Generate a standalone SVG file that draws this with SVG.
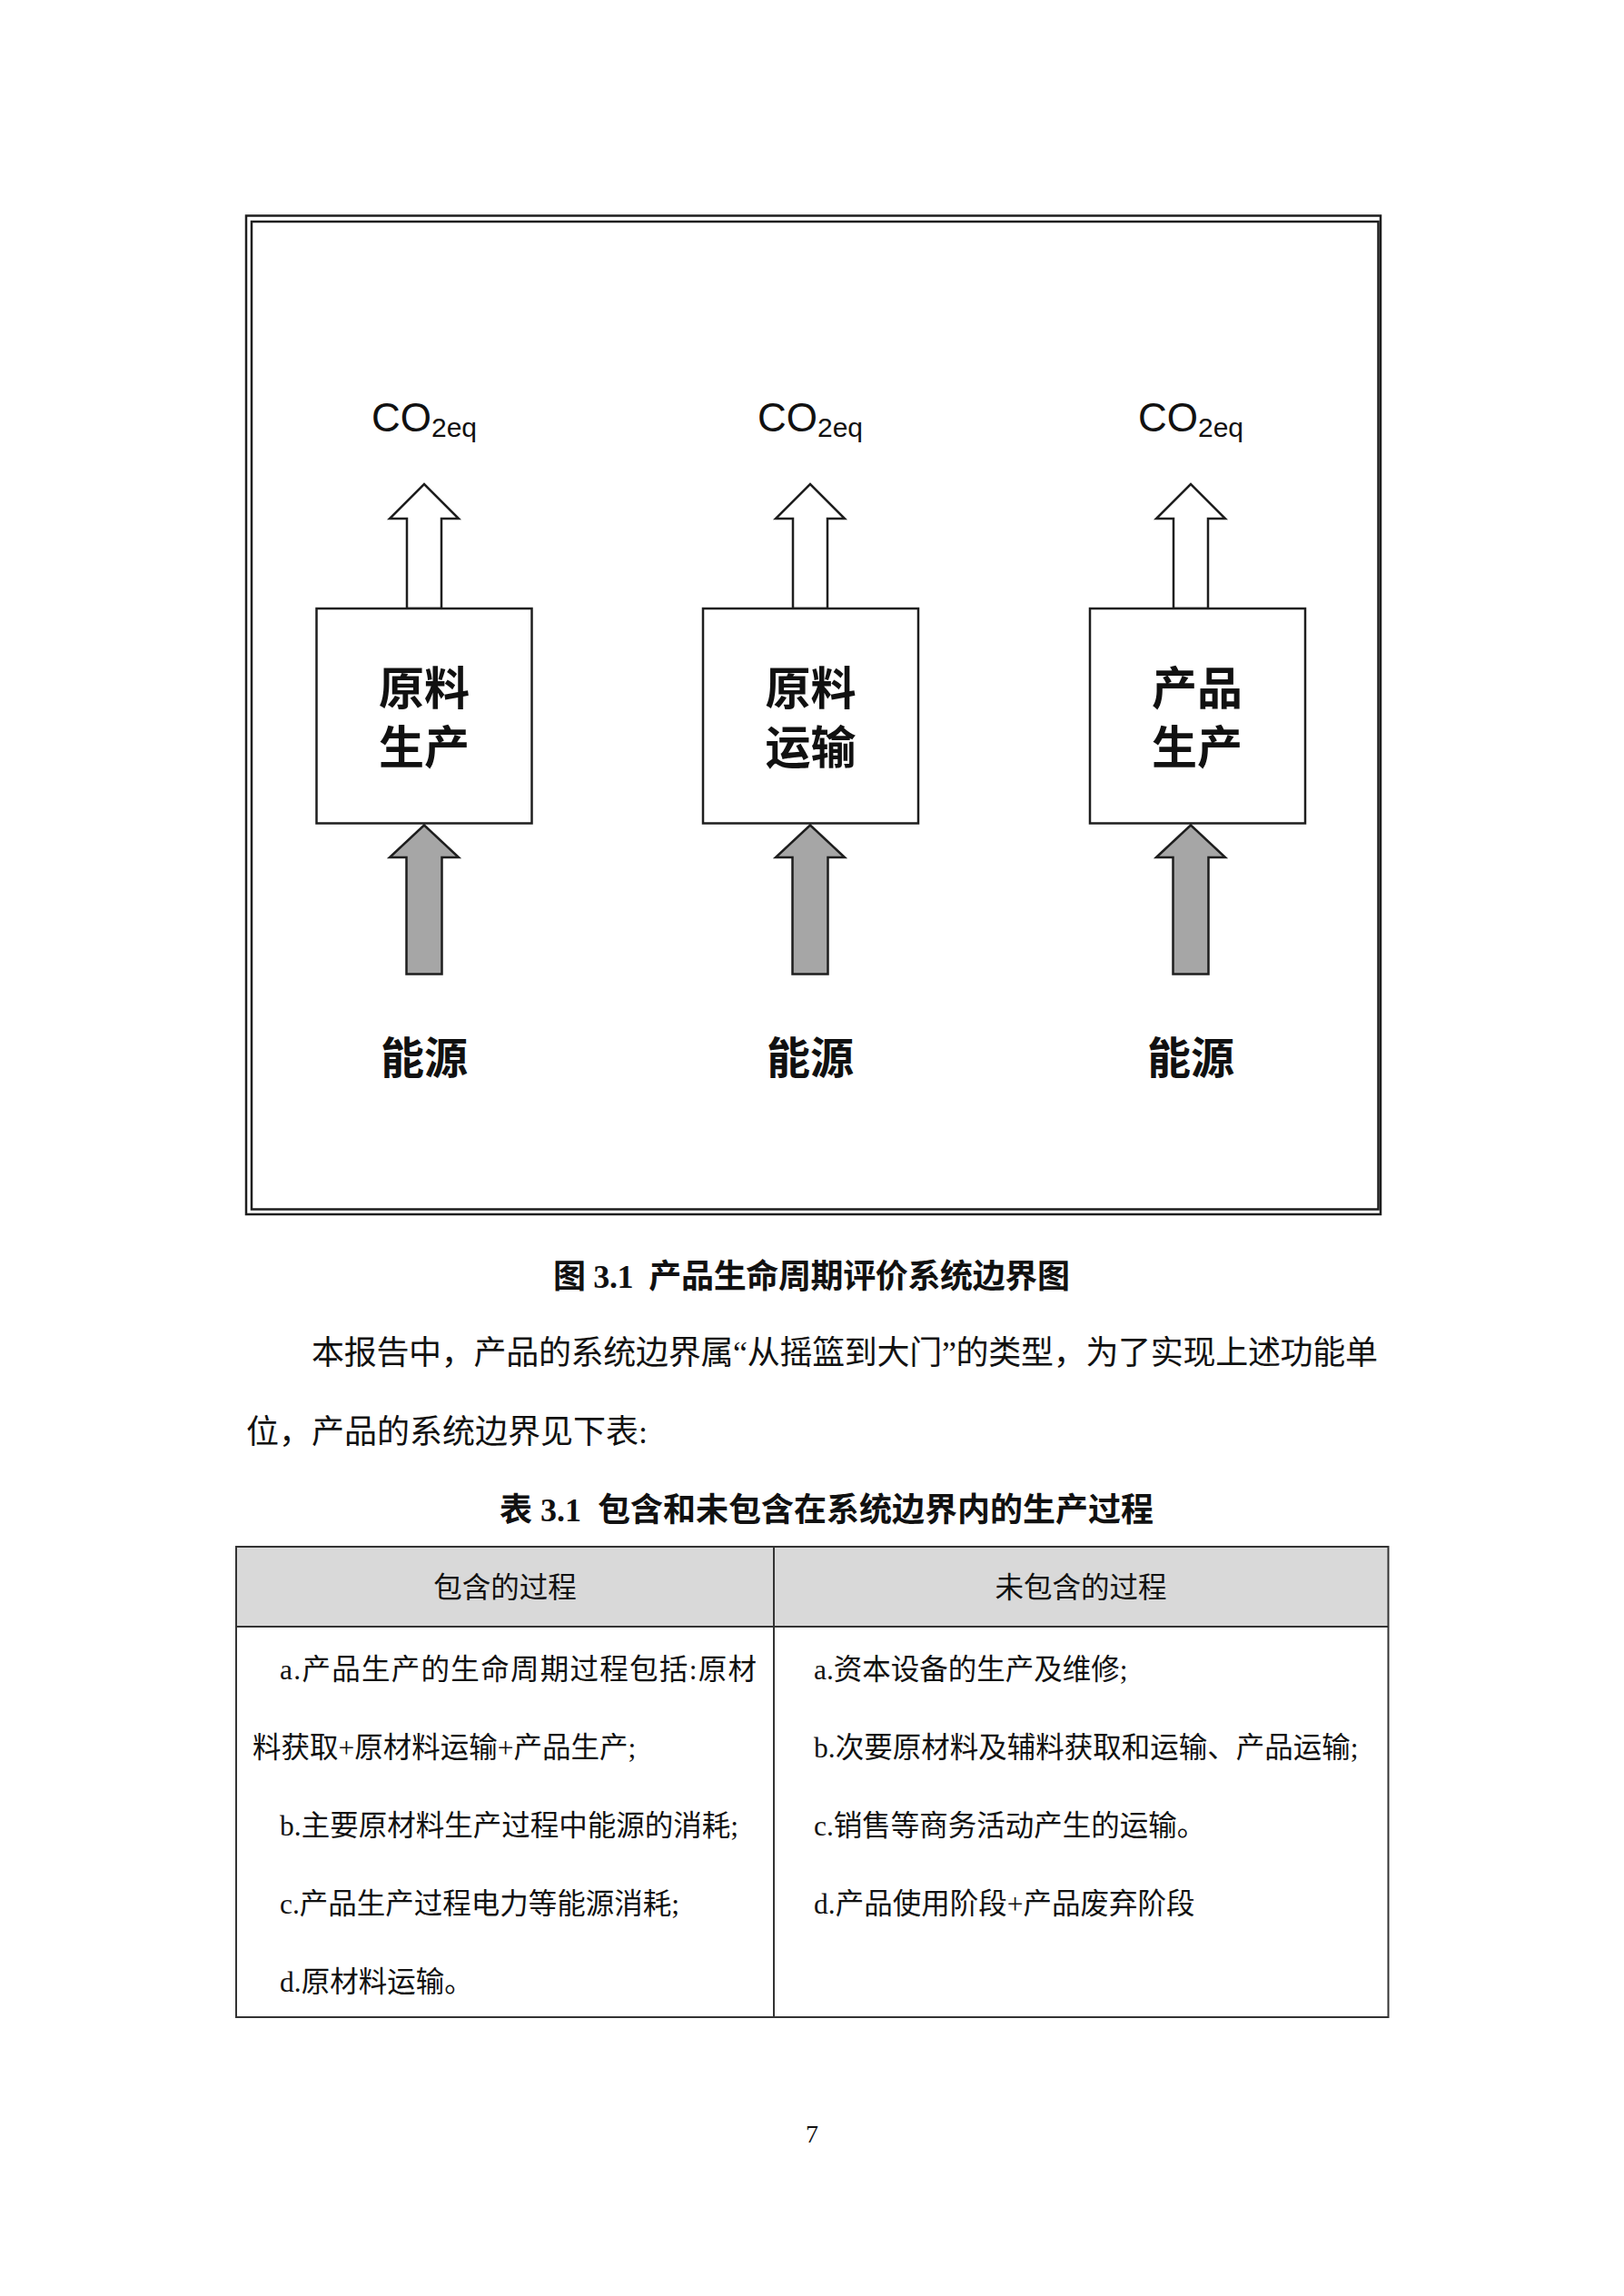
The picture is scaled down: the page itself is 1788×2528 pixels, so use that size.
<svg xmlns="http://www.w3.org/2000/svg" width="1788" height="2528" viewBox="0 0 1788 2528">
<style>
.frame{fill:none;stroke:#1e1e1e;stroke-width:2.5}
.box{fill:#fff;stroke:#1e1e1e;stroke-width:2.5}
.up{fill:#fff;stroke:#1e1e1e;stroke-width:2.5;stroke-linejoin:miter}
.energy{fill:#a6a6a6;stroke:#1e1e1e;stroke-width:2.5;stroke-linejoin:miter}
.lbl{font-family:"Noto Sans CJK SC",sans-serif;font-weight:700;font-size:50px;text-anchor:middle;fill:#111}
.src{font-family:"Noto Sans CJK SC",sans-serif;font-weight:700;font-size:48px;text-anchor:middle;fill:#111}
.co{font-family:"Liberation Sans",Arial,sans-serif;text-anchor:middle;fill:#111}
.cap{font-family:"Liberation Serif","Noto Sans CJK SC",serif;font-weight:700;font-size:36px;fill:#111}
.body{font-family:"Liberation Serif","Noto Sans CJK SC",serif;font-size:36px;fill:#111}
.cell{font-family:"Liberation Serif","Noto Sans CJK SC",serif;font-size:31.5px;fill:#111}
.hdr{font-family:"Liberation Serif","Noto Sans CJK SC",serif;font-size:31.5px;fill:#111;text-anchor:middle}
.tline{stroke:#333;stroke-width:2;fill:none}
</style>

<g id="boundary-frame">
<rect class="frame" x="271" y="237.5" width="1249" height="1099.5"/>
<rect class="frame" x="277" y="244" width="1240.5" height="1087.5" stroke-width="2"/>
</g>

<g id="connectors">
<polygon class="up" points="448,670 448,571 429,571 467,533 505,571 486,571 486,670"/>
<polygon class="up" points="873,670 873,571 854,571 892,533 930,571 911,571 911,670"/>
<polygon class="up" points="1292,670 1292,571 1273,571 1311,533 1349,571 1330,571 1330,670"/>
<polygon class="energy" points="447.5,1072.5 447.5,944 429,944 467,908.5 505,944 486.5,944 486.5,1072.5"/>
<polygon class="energy" points="872.5,1072.5 872.5,944 854,944 892,908.5 930,944 911.5,944 911.5,1072.5"/>
<polygon class="energy" points="1291.5,1072.5 1291.5,944 1273,944 1311,908.5 1349,944 1330.5,944 1330.5,1072.5"/>
</g>

<g id="co2-1"><text class="co" x="467" y="475"><tspan font-size="44">CO</tspan><tspan font-size="30" dy="6">2eq</tspan></text></g>
<g id="co2-2"><text class="co" x="892" y="475"><tspan font-size="44">CO</tspan><tspan font-size="30" dy="6">2eq</tspan></text></g>
<g id="co2-3"><text class="co" x="1311" y="475"><tspan font-size="44">CO</tspan><tspan font-size="30" dy="6">2eq</tspan></text></g>

<g id="node-raw-production">
<rect class="box" x="348.5" y="670" width="237" height="236.5"/>
<text class="lbl" x="467" y="776">原料</text>
<text class="lbl" x="467" y="841">生产</text>
</g>
<g id="node-raw-transport">
<rect class="box" x="774" y="670" width="237" height="236.5"/>
<text class="lbl" x="892.5" y="776">原料</text>
<text class="lbl" x="892.5" y="841">运输</text>
</g>
<g id="node-product-production">
<rect class="box" x="1200" y="670" width="237" height="236.5"/>
<text class="lbl" x="1318" y="776">产品</text>
<text class="lbl" x="1318" y="841">生产</text>
</g>

<g id="energy-1"><text class="src" x="467" y="1182">能源</text></g>
<g id="energy-2"><text class="src" x="892" y="1182">能源</text></g>
<g id="energy-3"><text class="src" x="1311" y="1182">能源</text></g>

<text class="cap" x="609" y="1418" textLength="569" lengthAdjust="spacing">图 3.1&#160;&#160;产品生命周期评价系统边界图</text>

<text class="body" x="343" y="1502" textLength="1174" lengthAdjust="spacing">本报告中，产品的系统边界属“从摇篮到大门”的类型，为了实现上述功能单</text>
<text class="body" x="271" y="1589">位，产品的系统边界见下表:</text>

<text class="cap" x="550" y="1675" textLength="720" lengthAdjust="spacing">表 3.1&#160;&#160;包含和未包含在系统边界内的生产过程</text>

<g id="table">
<rect x="260" y="1703" width="1268.5" height="88" fill="#d9d9d9"/>
<rect class="tline" x="260" y="1703" width="1268.5" height="518"/>
<line class="tline" x1="260" y1="1791" x2="1528.5" y2="1791"/>
<line class="tline" x1="852" y1="1703" x2="852" y2="2221"/>
<text class="hdr" x="556" y="1759">包含的过程</text>
<text class="hdr" x="1190" y="1759">未包含的过程</text>
<text class="cell" x="308" y="1849" textLength="525" lengthAdjust="spacing">a.产品生产的生命周期过程包括:原材</text>
<text class="cell" x="278" y="1935">料获取+原材料运输+产品生产;</text>
<text class="cell" x="308" y="2021">b.主要原材料生产过程中能源的消耗;</text>
<text class="cell" x="308" y="2107">c.产品生产过程电力等能源消耗;</text>
<text class="cell" x="308" y="2193">d.原材料运输。</text>
<text class="cell" x="896" y="1849">a.资本设备的生产及维修;</text>
<text class="cell" x="896" y="1935">b.次要原材料及辅料获取和运输、产品运输;</text>
<text class="cell" x="896" y="2021">c.销售等商务活动产生的运输。</text>
<text class="cell" x="896" y="2107">d.产品使用阶段+产品废弃阶段</text>
</g>

<text x="894" y="2359" font-family="Liberation Serif,serif" font-size="28" text-anchor="middle" fill="#111">7</text>
</svg>
